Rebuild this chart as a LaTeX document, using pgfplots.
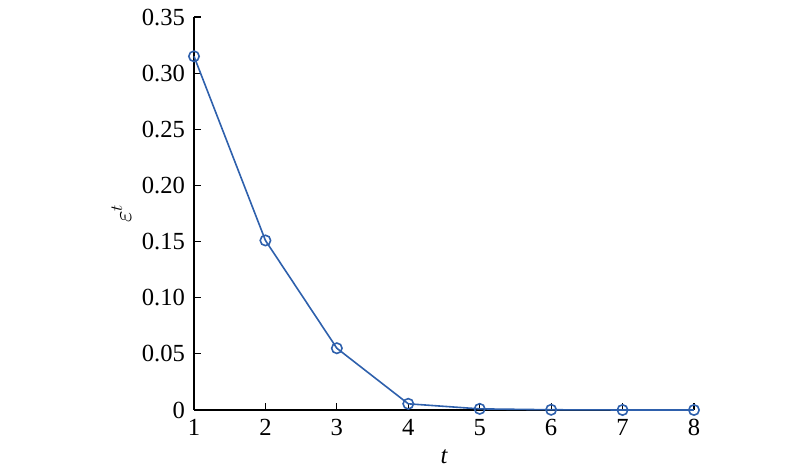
\documentclass[border=0pt]{standalone}
\usepackage{fontspec}
\setmainfont{Liberation Serif}
\usepackage{unicode-math}
\setmathfont{Latin Modern Math}
\usepackage{pgfplots}
\pgfplotsset{compat=1.18}
\definecolor{lblue}{RGB}{46,96,172}
\begin{document}
\begin{tikzpicture}[x=1pt,y=1pt]
\path[use as bounding box] (-97,-32) rectangle (303,205);
\begin{axis}[
  at={(0,0)}, anchor=south west,
  scale only axis, width=250pt, height=196.5pt,
  xmin=1, xmax=8, ymin=0, ymax=0.35,
  axis x line*=bottom, axis y line*=left,
  axis line style={line width=0.7pt},
  xtick={1,...,8},
  ytick={0,0.05,...,0.35},
  yticklabels={0,0.05,0.10,0.15,0.20,0.25,0.30,0.35},
  tick align=inside, major tick length=3.5pt,
  tick style={black, line width=0.6pt},
  tick label style={font=\fontsize{12.3}{14}\selectfont},
  /pgf/number format/assume math mode=true,
  xticklabel style={yshift=-1pt},
  yticklabel style={xshift=-1pt},
  xlabel={\fontsize{12.3}{14}\selectfont\itshape t},
  ylabel={\fontsize{12.3}{14}\selectfont$\varepsilon^{t}$},
  xlabel style={yshift=0pt},
  ylabel style={yshift=-2pt},
  clip=false,
]
\addplot[lblue, line width=0.8pt, mark=o, mark size=2.6pt, mark options={line width=0.8pt}]
coordinates {(1,0.315) (2,0.151) (3,0.055) (4,0.0055) (5,0.001) (6,0.0002) (7,0) (8,0)};
\end{axis}
\end{tikzpicture}
\end{document}
